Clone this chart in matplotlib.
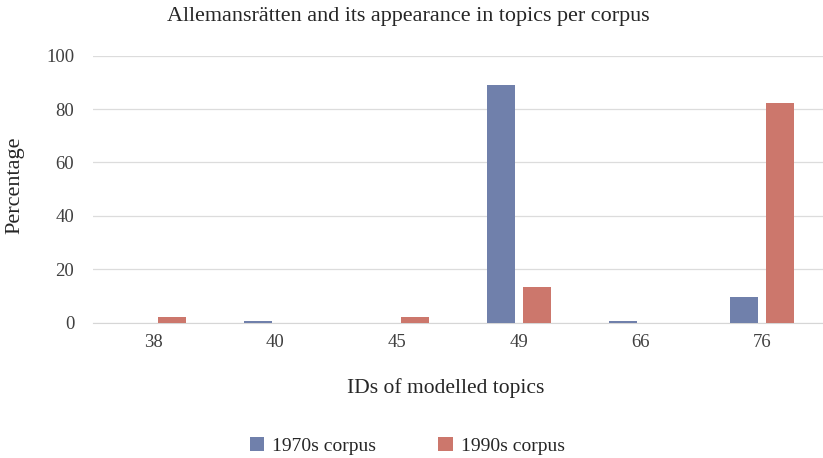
import matplotlib
matplotlib.use("Agg")
import matplotlib.pyplot as plt
import numpy as np

categories = ["38", "40", "45", "49", "66", "76"]
corpus_1970s = [0.0, 0.5, 0.0, 89.0, 0.5, 9.5]
corpus_1990s = [2.0, 0.0, 2.0, 13.2, 0.0, 82.2]
yticks = [0, 20, 40, 60, 80, 100]

plt.rcParams['font.family'] = ['Liberation Serif', 'DejaVu Serif']

fig = plt.figure(figsize=(8.23, 4.58), dpi=100)
ax = fig.add_axes([0.113, 0.2954, 0.887, 0.583])

x = np.arange(len(categories))
w = 0.229
gap = 0.065
blue = '#7080ab'
red = '#cc776c'
ax.bar(x - (w + gap) / 2, corpus_1970s, width=w, color=blue, label='1970s corpus', zorder=3)
ax.bar(x + (w + gap) / 2, corpus_1990s, width=w, color=red, label='1990s corpus', zorder=3)

ax.set_xlim(-0.5, len(categories) - 0.5)
ax.set_ylim(0, 100)
ax.set_yticks(yticks)
ax.set_xticks(x)
ax.set_xticklabels(categories)
ax.grid(axis='y', color='#dcdcdc', linewidth=0.9, zorder=0)
for s in ['top', 'right', 'left']:
    ax.spines[s].set_visible(False)
ax.spines['bottom'].set_color('#d6d6d6')
ax.tick_params(axis='both', length=0, labelsize=13.5, colors='#404040')
ax.tick_params(axis='y', pad=13.5)
ax.tick_params(axis='x', pad=8)

fig.text(0.018, 0.596, 'Percentage', rotation=90, ha='center', va='center',
         fontsize=16, color='#262626')
fig.text(0.542, 0.153, 'IDs of modelled topics', ha='center', va='center',
         fontsize=15.5, color='#262626')
fig.text(0.496, 0.965, 'Allemansrätten and its appearance in topics per corpus',
         ha='center', va='center', fontsize=15.9, color='#262626')

fig.legend(loc='center', bbox_to_anchor=(0.495, 0.026), ncol=2, frameon=False,
           fontsize=14, handlelength=0.75, handleheight=0.75, columnspacing=3.2,
           handletextpad=0.4, labelcolor='#262626')

fig.savefig('out.png', dpi=100)
